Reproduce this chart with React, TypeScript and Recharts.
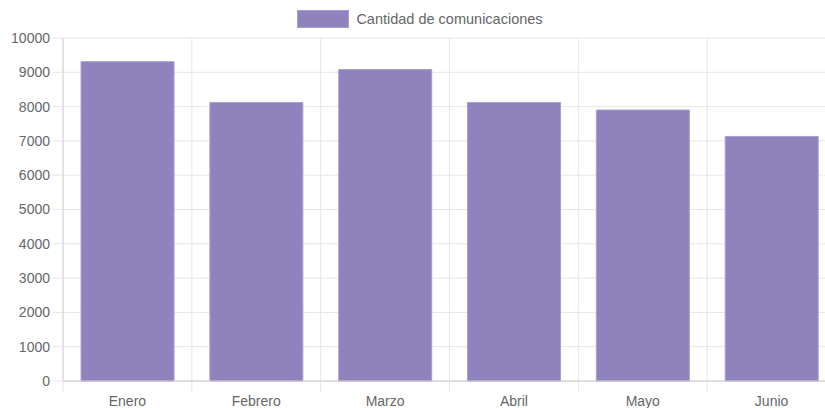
import React from 'react';
import { BarChart, Bar, XAxis, YAxis, CartesianGrid, Legend } from 'recharts';

const months = ['Enero', 'Febrero', 'Marzo', 'Abril', 'Mayo', 'Junio'];
const comunicaciones = [9310, 8120, 9080, 8120, 7900, 7130];
const yTicks = [0, 1000, 2000, 3000, 4000, 5000, 6000, 7000, 8000, 9000, 10000];

const seriesName = 'Cantidad de comunicaciones';
const barFill = '#9082bd';
const barStroke = '#a99ed2';
const gridColor = '#e6e6e6';
const axisColor = '#c8c8c8';
const textColor = '#666';
const font = '"Liberation Sans", Arial, Helvetica, sans-serif';

const CHART_W = 840;
const CHART_H = 408;
const Y_AXIS_W = 63;
const RIGHT = 4;
const band = (CHART_W - Y_AXIS_W - RIGHT) / months.length;

const data = months.map((m, i) => ({ name: m, value: comunicaciones[i] }));

function MonthTick(props: any) {
  const { x, y, payload, index } = props;
  const left = x - band / 2;
  return (
    <g>
      <line x1={left} y1={y} x2={left} y2={y + 11} stroke={gridColor} />
      {index === months.length - 1 && (
        <line x1={x + band / 2} y1={y} x2={x + band / 2} y2={y + 11} stroke={gridColor} />
      )}
      <text x={x} y={y + 25} textAnchor="middle" fontSize={14} fill={textColor} fontFamily={font}>
        {payload.value}
      </text>
    </g>
  );
}

function LegendBox() {
  return (
    <div
      style={{
        display: 'flex',
        justifyContent: 'center',
        alignItems: 'center',
        height: 17,
        fontFamily: font,
        fontSize: 14.5,
        color: textColor,
      }}
    >
      <span
        style={{
          display: 'inline-block',
          width: 50,
          height: 16,
          background: barFill,
          border: `1px solid ${barStroke}`,
          marginRight: 7,
        }}
      />
      <span>{seriesName}</span>
    </div>
  );
}

export default function App() {
  return (
    <div style={{ position: 'absolute', left: 0, top: 0, width: 825, height: 408, overflow: 'hidden', background: '#fff' }}>
      <BarChart
        width={CHART_W}
        height={CHART_H}
        data={data}
        margin={{ top: 21, right: RIGHT, left: 0, bottom: 0 }}
        barCategoryGap="14%"
      >
        <CartesianGrid
          stroke={gridColor}
          verticalCoordinatesGenerator={({ offset }: any) =>
            months.map((_, i) => offset.left + (offset.width / months.length) * (i + 1))
          }
        />
        <Legend
          verticalAlign="top"
          align="center"
          wrapperStyle={{ left: 0, width: CHART_W, top: 10 }}
          content={() => <LegendBox />}
        />
        <XAxis
          dataKey="name"
          height={27}
          tickSize={0}
          tickMargin={0}
          tickLine={false}
          axisLine={{ stroke: axisColor }}
          tick={<MonthTick />}
          interval={0}
        />
        <YAxis
          width={Y_AXIS_W}
          domain={[0, 10000]}
          ticks={yTicks}
          interval={0}
          tickSize={10}
          tickMargin={3}
          tickLine={{ stroke: gridColor }}
          axisLine={{ stroke: axisColor }}
          tick={{ fontSize: 14, fill: textColor, fontFamily: font }}
        />
        <Bar
          dataKey="value"
          name={seriesName}
          fill={barFill}
          stroke={barStroke}
          strokeWidth={1}
          isAnimationActive={false}
        />
      </BarChart>
    </div>
  );
}
